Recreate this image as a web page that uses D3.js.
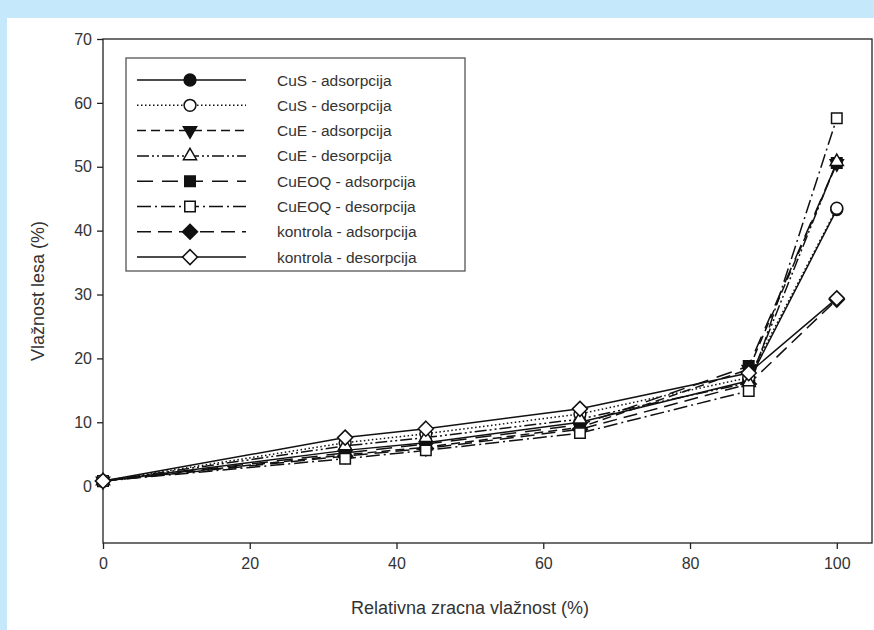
<!DOCTYPE html>
<html>
<head>
<meta charset="utf-8">
<script src="https://cdn.jsdelivr.net/npm/d3@7"></script>
<style>
  body { margin: 0; background: #c6e8fb; }
  svg { display: block; font-family: "Liberation Sans", Arial, sans-serif; }
</style>
</head>
<body>
<svg width="874" height="630"></svg>
<script>
// data
var humidity = [0, 33, 44, 65, 88, 100];

var seriesNames = [
  "CuS - adsorpcija", "CuS - desorpcija",
  "CuE - adsorpcija", "CuE - desorpcija",
  "CuEOQ - adsorpcija", "CuEOQ - desorpcija",
  "kontrola - adsorpcija", "kontrola - desorpcija"
];

var cusAds      = [0.8, 5.6, 6.8, 10.0, 16.5, 43.3];
var cusDes      = [0.8, 6.8, 8.2, 11.3, 17.0, 43.5];
var cueAds      = [0.8, 4.9, 6.1, 9.2, 18.3, 50.5];
var cueDes      = [0.8, 6.3, 7.6, 10.5, 16.2, 50.8];
var cueoqAds    = [0.8, 5.2, 6.6, 9.6, 18.8, 50.6];
var cueoqDes    = [0.8, 4.3, 5.6, 8.3, 14.9, 57.6];
var kontrolaAds = [0.8, 4.7, 5.9, 8.9, 16.0, 29.2];
var kontrolaDes = [0.8, 7.6, 9.0, 12.1, 17.7, 29.4];

var yTicks = [0, 10, 20, 30, 40, 50, 60, 70];
var xTicks = [0, 20, 40, 60, 80, 100];

// square turned on its corner, like sigmaplot draws it
var squareDiamond = {
  draw: function (context, size) {
    var r = Math.sqrt(size) / 2;
    context.moveTo(0, -r);
    context.lineTo(r, 0);
    context.lineTo(0, r);
    context.lineTo(-r, 0);
    context.closePath();
  }
};

// look of each series: dash, marker shape, filled?
var styles = [
  { dash: null,           shape: d3.symbolCircle,   size: 110, filled: true },
  { dash: "1.5,2.5",      shape: d3.symbolCircle,   size: 110, filled: false },
  { dash: "9,5",          shape: d3.symbolTriangle, size: 75,  filled: true, down: true },
  { dash: "12,3,2,3,2,3", shape: d3.symbolTriangle, size: 75,  filled: false },
  { dash: "16,9",         shape: d3.symbolSquare,   size: 110, filled: true },
  { dash: "14,4,2,4",     shape: d3.symbolSquare,   size: 110, filled: false },
  { dash: "14,7",         shape: squareDiamond,     size: 225, filled: true },
  { dash: null,           shape: squareDiamond,     size: 225, filled: false }
];

var allValues = [cusAds, cusDes, cueAds, cueDes, cueoqAds, cueoqDes, kontrolaAds, kontrolaDes];

var svg = d3.select("svg");

// white panel
svg.append("rect")
  .attr("x", 7).attr("y", 18)
  .attr("width", 867).attr("height", 612)
  .attr("fill", "#ffffff");

var plotLeft = 103, plotRight = 872, plotTop = 39, plotBottom = 543;

var x = d3.scaleLinear().domain([0, 104.8]).range([plotLeft, plotRight]);
var y = d3.scaleLinear().domain([-8.9, 70]).range([plotBottom, plotTop]);

// frame
svg.append("rect")
  .attr("x", plotLeft).attr("y", plotTop)
  .attr("width", plotRight - plotLeft).attr("height", plotBottom - plotTop)
  .attr("fill", "none").attr("stroke", "#222").attr("stroke-width", 1.3);

// axes
var yAxis = svg.append("g")
  .attr("transform", "translate(" + plotLeft + ",0)")
  .call(d3.axisLeft(y).tickValues(yTicks).tickSize(6).tickPadding(5));
var xAxis = svg.append("g")
  .attr("transform", "translate(0," + plotBottom + ")")
  .call(d3.axisBottom(x).tickValues(xTicks).tickSize(6).tickPadding(9));

[yAxis, xAxis].forEach(function (a) {
  a.select(".domain").remove();
  a.selectAll("line").attr("stroke", "#222").attr("stroke-width", 1.3);
  a.selectAll("text").attr("font-size", 16).attr("fill", "#333")
    .attr("font-family", "'Liberation Sans', Arial, sans-serif");
});

// axis titles
svg.append("text")
  .attr("x", 470).attr("y", 614)
  .attr("text-anchor", "middle")
  .attr("font-size", 18).attr("fill", "#333")
  .text("Relativna zracna vlažnost (%)");

svg.append("text")
  .attr("transform", "translate(44,291) rotate(-90)")
  .attr("text-anchor", "middle")
  .attr("font-size", 18).attr("fill", "#333")
  .text("Vlažnost lesa (%)");

var line = d3.line()
  .x(function (d, i) { return x(humidity[i]); })
  .y(function (d) { return y(d); });

function drawMarker(g, st, px, py) {
  g.append("path")
    .attr("d", d3.symbol().type(st.shape).size(st.size)())
    .attr("transform", "translate(" + px + "," + py + ")" + (st.down ? " rotate(180)" : ""))
    .attr("fill", st.filled ? "#111" : "#fff")
    .attr("stroke", "#111")
    .attr("stroke-width", 1.5);
}

// lines
allValues.forEach(function (vals, k) {
  svg.append("path")
    .attr("d", line(vals))
    .attr("fill", "none")
    .attr("stroke", "#111")
    .attr("stroke-width", 1.5)
    .attr("stroke-dasharray", styles[k].dash);
});

// markers: filled ones first, open ones over them
var order = [0, 2, 4, 6, 1, 3, 5, 7];
order.forEach(function (k) {
  var g = svg.append("g");
  allValues[k].forEach(function (v, i) {
    drawMarker(g, styles[k], x(humidity[i]), y(v));
  });
});

// legend
var legend = svg.append("g");
legend.append("rect")
  .attr("x", 126).attr("y", 58)
  .attr("width", 339).attr("height", 213)
  .attr("fill", "#fff").attr("stroke", "#555").attr("stroke-width", 1.3);

seriesNames.forEach(function (name, k) {
  var ly = 80 + k * 25.3;
  legend.append("line")
    .attr("x1", 137).attr("x2", 246)
    .attr("y1", ly).attr("y2", ly)
    .attr("stroke", "#111").attr("stroke-width", 1.5)
    .attr("stroke-dasharray", styles[k].dash);
  drawMarker(legend, styles[k], 190, ly);
  legend.append("text")
    .attr("x", 277).attr("y", ly + 5.5)
    .attr("font-size", 15.5).attr("fill", "#333")
    .text(name);
});
</script>
</body>
</html>
